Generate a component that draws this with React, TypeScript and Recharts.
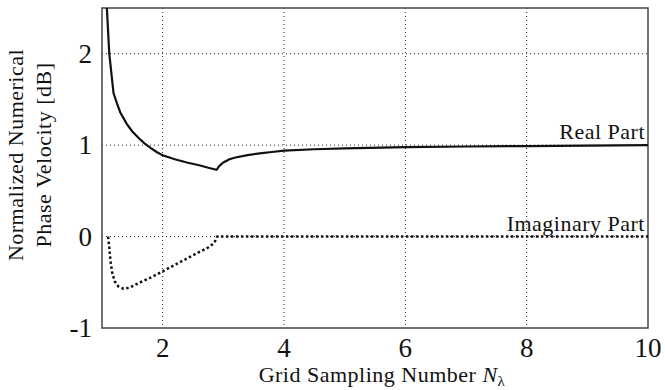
import React from "react";
import {
  LineChart,
  Line,
  XAxis,
  YAxis,
  CartesianGrid,
  ReferenceLine,
  ReferenceArea,
} from "recharts";

const realX = [1.08, 1.12, 1.19, 1.25, 1.3, 1.41, 1.5, 1.6, 1.7, 1.8, 1.9, 2.0, 2.2, 2.4, 2.6, 2.8, 2.89, 2.93, 3.0, 3.1, 3.2, 3.4, 3.6, 3.8, 4, 4.5, 5, 6, 7, 8, 9, 10];
const realY = [2.5, 2.0, 1.57, 1.45, 1.36, 1.23, 1.15, 1.08, 1.02, 0.97, 0.925, 0.89, 0.845, 0.81, 0.78, 0.745, 0.73, 0.77, 0.81, 0.845, 0.865, 0.89, 0.91, 0.925, 0.94, 0.955, 0.965, 0.978, 0.985, 0.99, 0.995, 1.0];

const imagX = [1.1, 1.12, 1.14, 1.17, 1.21, 1.27, 1.35, 1.45, 1.6, 1.8, 2.0, 2.2, 2.4, 2.6, 2.75, 2.85, 2.9, 4, 6, 8, 10];
const imagY = [0, -0.12, -0.27, -0.4, -0.49, -0.545, -0.57, -0.56, -0.51, -0.45, -0.38, -0.31, -0.24, -0.17, -0.12, -0.07, 0, 0, 0, 0, 0];

const xTicks = [2, 4, 6, 8, 10];
const yTicks = [-1, 0, 1, 2];
const seriesLabels = ["Real Part", "Imaginary Part"];

const serif = { fontFamily: "Liberation Serif", fill: "#111" };
const textStyle = { ...serif, fontSize: 22, letterSpacing: 0.5 };
const tickFont = { ...serif, fontSize: 27 };

const realData = realX.map((x, i) => ({ x, y: realY[i] }));
const imagData = imagX.map((x, i) => ({ x, y: imagY[i] }));

const XTick = ({ x, y, payload }: any) => (
  <text x={x} y={y + 21} textAnchor="middle" style={tickFont}>
    {payload.value}
  </text>
);

const YTick = ({ x, y, payload }: any) => (
  <text x={x - 2} y={y + 9} textAnchor="end" style={tickFont}>
    {payload.value}
  </text>
);

const lineLabel = (text: string) => ({ viewBox }: any) => (
  <text
    x={viewBox.x + viewBox.width - 3}
    y={viewBox.y - 6}
    textAnchor="end"
    style={textStyle}
  >
    {text}
  </text>
);

export default function App() {
  return (
    <div style={{ position: "fixed", left: 0, top: 0, background: "#fff" }}>
      <svg width={665} height={390} style={{ position: "absolute", left: 0, top: 0, pointerEvents: "none" }}>
        <text transform="translate(23,155) rotate(-90)" textAnchor="middle" style={textStyle}>
          Normalized Numerical
        </text>
        <text transform="translate(51,155) rotate(-90)" textAnchor="middle" style={textStyle}>
          Phase Velocity [dB]
        </text>
        <text x={382} y={382} textAnchor="middle" style={textStyle}>
          Grid Sampling Number <tspan style={{ fontStyle: "italic" }}>N</tspan>
          <tspan style={{ fontSize: 15 }} dy={4}>λ</tspan>
        </text>
      </svg>
      <LineChart width={665} height={390} margin={{ top: 8, right: 17, left: 0, bottom: 0 }}>
        <CartesianGrid stroke="#222" strokeDasharray="1 3" horizontalValues={[0, 1, 2]} verticalValues={[2, 4, 6, 8]} />
        <XAxis
          type="number"
          dataKey="x"
          domain={[1, 10]}
          ticks={xTicks}
          height={62}
          axisLine={false}
          tickLine={false}
          tick={<XTick />}
          allowDataOverflow
        />
        <YAxis
          type="number"
          dataKey="y"
          domain={[-1, 2.5]}
          ticks={yTicks}
          width={102}
          axisLine={false}
          tickLine={false}
          tick={<YTick />}
          allowDataOverflow
        />
        <ReferenceArea x1={1} x2={10} y1={-1} y2={2.5} fill="none" stroke="#444" strokeWidth={1.5} />
        <ReferenceLine y={1} strokeOpacity={0} label={lineLabel(seriesLabels[0])} />
        <ReferenceLine y={0} strokeOpacity={0} label={lineLabel(seriesLabels[1])} />
        <Line
          data={realData}
          dataKey="y"
          type="linear"
          stroke="#111"
          strokeWidth={2.2}
          dot={false}
          isAnimationActive={false}
        />
        <Line
          data={imagData}
          dataKey="y"
          type="linear"
          stroke="#111"
          strokeWidth={2.5}
          strokeDasharray="2.5 2.5"
          dot={false}
          isAnimationActive={false}
        />
      </LineChart>
    </div>
  );
}
